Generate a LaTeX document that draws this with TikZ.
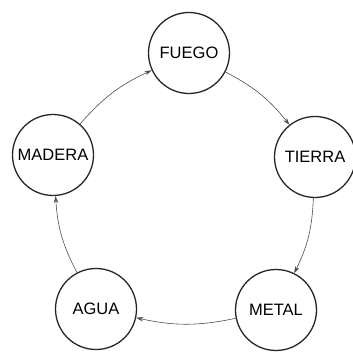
\documentclass[tikz,border=0pt]{standalone}
\usepackage{fontspec}
\setmainfont{Liberation Sans}
\usetikzlibrary{arrows.meta}

\begin{document}
\begin{tikzpicture}[x=1pt,y=-1pt,
	elem/.style={draw=black!85,line width=1.3pt,circle,minimum size=81pt,inner sep=0pt,
		font=\fontsize{16.5}{17}\selectfont},
	flow/.style={-{Stealth[length=7pt,width=4.5pt]},draw=black!70,line width=0.6pt}]
\useasboundingbox (0,0) rectangle (353,352);

\node[elem](fuego) at (189,53) {FUEGO};
\node[elem](tierra) at (315,157) {TIERRA};
\node[elem](metal) at (276,310) {METAL};
\node[elem](agua) at (96,309) {AGUA};
\node[elem](madera) at (53,155) {MADERA};

\foreach \a/\b in {fuego/tierra,tierra/metal,metal/agua,agua/madera,madera/fuego}
	\draw[flow](\a) to[bend left=12] (\b);

\end{tikzpicture}
\end{document}
